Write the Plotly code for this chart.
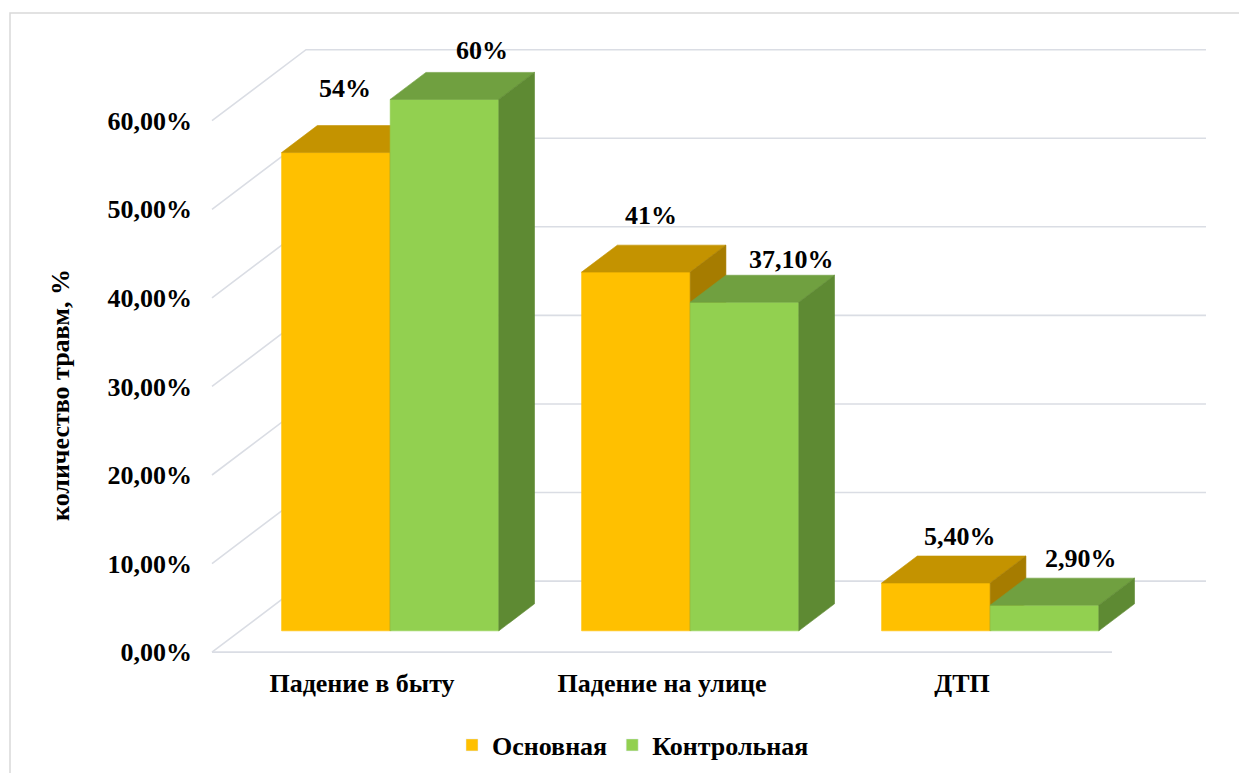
import plotly.graph_objects as go

# ---------------- data ----------------
categories = ["Падение в быту", "Падение на улице", "ДТП"]
series_names = ["Основная", "Контрольная"]
osnovnaya = [54.0, 40.5, 5.4]
kontrolnaya = [60.0, 37.1, 2.9]
osnovnaya_labels = ["54%", "41%", "5,40%"]
kontrolnaya_labels = ["60%", "37,10%", "2,90%"]
y_ticks = [0, 10, 20, 30, 40, 50, 60]
y_tick_text = ["0,00%", "10,00%", "20,00%", "30,00%", "40,00%", "50,00%", "60,00%"]

# ---------------- style / geometry ----------------
W, H = 1247, 773
PAGE = 8                       # default body margin of the html page
PW, PH = 1020, 620
ML, MT = 197 - PAGE, 41 - PAGE
MR, MB = W - ML - PW, H - MT - PH
X_RANGE = [-0.55, 2.85]
Y_RANGE = [-1, 69]

DX, DY = 0.3133, 8.02          # full depth offset of the 3D box (axis units)
D0, DB = 0.30, 0.38            # bar front depth and bar depth (fractions)
BAR_W = 0.362

FRONT = ["#FFC000", "#92D050"]
TOP = ["#C49300", "#70A040"]
SIDE = ["#A67C00", "#5E8A33"]
GRID = "#DADDE4"
FONT = dict(family="Liberation Serif, Times New Roman, serif", size=26, color="black", weight="bold")

label_xshift = [[-9, -3, 6], [20, 29, 19]]
label_yshift = [[51, 43, 33], [35, 29, 33]]


def paper_x(px):
    return (px - PAGE - ML) / PW


def paper_y(py):
    return (H - MB - (py - PAGE)) / PH


fig = go.Figure()

# gridlines on the 3D walls
x0, x1 = -0.5, len(categories) - 0.5
for v in y_ticks:
    fig.add_trace(go.Scatter(
        x=[x0, x0 + DX, x1 + DX], y=[v, v + DY, v + DY],
        mode="lines", line=dict(color=GRID, width=1.6),
        hoverinfo="skip", showlegend=False))
fig.add_trace(go.Scatter(
    x=[x0, x1], y=[0, 0], mode="lines", line=dict(color=GRID, width=1.6),
    hoverinfo="skip", showlegend=False))


def poly(xs, ys, color):
    fig.add_trace(go.Scatter(
        x=xs + [xs[0]], y=ys + [ys[0]], mode="lines", fill="toself",
        fillcolor=color, line=dict(color=color, width=0.6),
        hoverinfo="skip", showlegend=False))


values = [osnovnaya, kontrolnaya]
labels = [osnovnaya_labels, kontrolnaya_labels]
annotations = []
bx, by = D0 * DX, D0 * DY
ex, ey = DB * DX, DB * DY
for c in range(len(categories)):
    for s in range(2):
        v = values[s][c]
        xl = c - BAR_W if s == 0 else c
        xr = xl + BAR_W
        # front
        poly([xl + bx, xr + bx, xr + bx, xl + bx], [by, by, v + by, v + by], FRONT[s])
        # top
        poly([xl + bx, xr + bx, xr + bx + ex, xl + bx + ex],
             [v + by, v + by, v + by + ey, v + by + ey], TOP[s])
        # side
        poly([xr + bx, xr + bx + ex, xr + bx + ex, xr + bx],
             [by, by + ey, v + by + ey, v + by], SIDE[s])
        annotations.append(dict(
            x=(xl + xr) / 2 + bx + ex / 2, y=v + by + ey / 2, xref="x", yref="y",
            text=labels[s][c], showarrow=False, font=FONT,
            xanchor="center", yanchor="middle",
            xshift=label_xshift[s][c], yshift=label_yshift[s][c]))

# legend entries
for s in range(2):
    fig.add_trace(go.Bar(x=[None], y=[None], name=series_names[s],
                         marker_color=FRONT[s], showlegend=True))

annotations.append(dict(
    x=paper_x(60), y=paper_y(395), xref="paper", yref="paper",
    xanchor="center", yanchor="middle",
    text="количество травм, %", textangle=-90, showarrow=False, font=FONT))

fig.update_layout(
    width=W, height=H,
    margin=dict(l=ML, r=MR, t=MT, b=MB),
    paper_bgcolor="white", plot_bgcolor="white",
    font=FONT,
    showlegend=True,
    legend=dict(orientation="h", x=paper_x(633), xanchor="center",
                y=paper_y(745), yanchor="middle", font=FONT,
                bgcolor="rgba(0,0,0,0)"),
    xaxis=dict(range=X_RANGE, showgrid=False, zeroline=False, showline=False,
               tickvals=list(range(len(categories))), ticktext=categories,
               tickfont=FONT, ticks="", ticklabelstandoff=4, fixedrange=True),
    yaxis=dict(range=Y_RANGE, showgrid=False, zeroline=False, showline=False,
               tickvals=y_ticks, ticktext=y_tick_text, tickfont=FONT,
               ticks="", ticklabelstandoff=4, fixedrange=True),
    annotations=annotations,
    shapes=[dict(type="rect", xref="paper", yref="paper",
                 x0=paper_x(10), y0=paper_y(13), x1=paper_x(1262), y1=paper_y(790),
                 line=dict(color="#D9D9D9", width=1.5), layer="below")],
)

fig.write_html("out.html")
